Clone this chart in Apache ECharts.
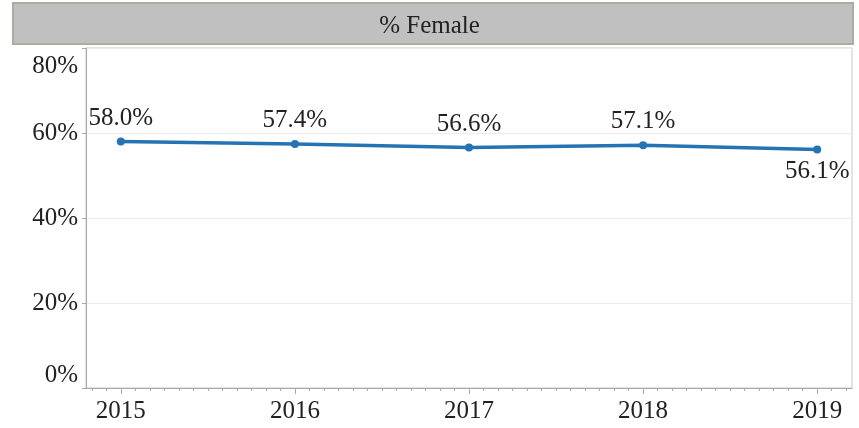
<!DOCTYPE html>
<html>
<head>
<meta charset="utf-8">
<script src="https://cdn.jsdelivr.net/npm/echarts@6/dist/echarts.min.js"></script>
<style>
  html, body { margin: 0; padding: 0; background: #fff; }
  #main { width: 859px; height: 428px; }
</style>
</head>
<body>
<div id="main"></div>
<script>
var years = [2015, 2016, 2017, 2018, 2019];
var female = [58.0, 57.4, 56.6, 57.1, 56.1];
var yTicks = [0, 20, 40, 60, 80];
var labelPos = ['top', 'top', 'top', 'top', 'bottom'];

// monthly minor ticks along the year axis
var months = [];
for (var y = 2014; y <= 2019; y++) {
    for (var m = 1; m < 12; m++) {
        var v = y + m / 12;
        if (v > 2014.8 && v < 2019.2) months.push(v);
    }
}

var myChart = echarts.init(document.getElementById('main'));
var font = '"Liberation Serif", "DejaVu Serif", serif';
var option = {
    backgroundColor: '#fff',
    textStyle: { fontFamily: font },
    graphic: [{
        type: 'rect',
        left: 12, top: 2,
        shape: { width: 840, height: 41 },
        style: { fill: '#c0c0c0', stroke: '#aeac9f', lineWidth: 2 },
        z: 0
    }],
    title: {
        text: '% Female',
        left: 'center',
        top: 9,
        textStyle: { fontFamily: font, fontWeight: 'normal', fontSize: 25, color: '#222' }
    },
    grid: {
        left: 86, right: 7, top: 48, bottom: 40,
        show: true, borderColor: '#c8c8c8', borderWidth: 1
    },
    xAxis: [{
        type: 'value',
        min: 2014.8,
        max: 2019.2,
        splitLine: { show: false },
        axisLine: { lineStyle: { color: '#a8a8a8', width: 1 } },
        axisTick: { customValues: years, length: 6, lineStyle: { color: '#a8a8a8' } },
        axisLabel: {
            customValues: years,
            formatter: function (v) { return String(v); },
            fontFamily: font, fontSize: 25, color: '#222', margin: 11
        }
    }, {
        type: 'value',
        min: 2014.8,
        max: 2019.2,
        position: 'bottom',
        splitLine: { show: false },
        axisLine: { show: false },
        axisTick: { customValues: months, length: 3, lineStyle: { color: '#a8a8a8' } },
        axisLabel: { show: false }
    }],
    yAxis: {
        type: 'value',
        min: 0,
        max: 80,
        interval: 20,
        axisLine: { show: true, lineStyle: { color: '#a8a8a8' } },
        axisTick: { show: true, length: 4, lineStyle: { color: '#a8a8a8' } },
        splitLine: { lineStyle: { color: '#ececec' } },
        axisLabel: {
            formatter: function (v) {
                return v === 80 ? '{top|' + v + '%}' : v + '%';
            },
            rich: {
                top: { fontFamily: font, fontSize: 25, color: '#222', padding: [6, 0, 0, 0] }
            },
            fontFamily: font, fontSize: 25, color: '#222', margin: 8,
            verticalAlignMinLabel: 'bottom',
            verticalAlignMaxLabel: 'top'
        }
    },
    series: [{
        name: '% Female',
        type: 'line',
        xAxisIndex: 0,
        data: years.map(function (yr, i) {
            return {
                value: [yr, female[i]],
                label: { position: labelPos[i], distance: i === 4 ? 5 : 7 }
            };
        }),
        symbol: 'circle',
        symbolSize: 8,
        lineStyle: { width: 3.5, color: '#2474b4' },
        itemStyle: { color: '#2474b4' },
        label: {
            show: true,
            fontFamily: font, fontSize: 25, color: '#222',
            formatter: function (p) { return p.value[1].toFixed(1) + '%'; }
        }
    }]
};
myChart.setOption(option);
</script>
</body>
</html>
